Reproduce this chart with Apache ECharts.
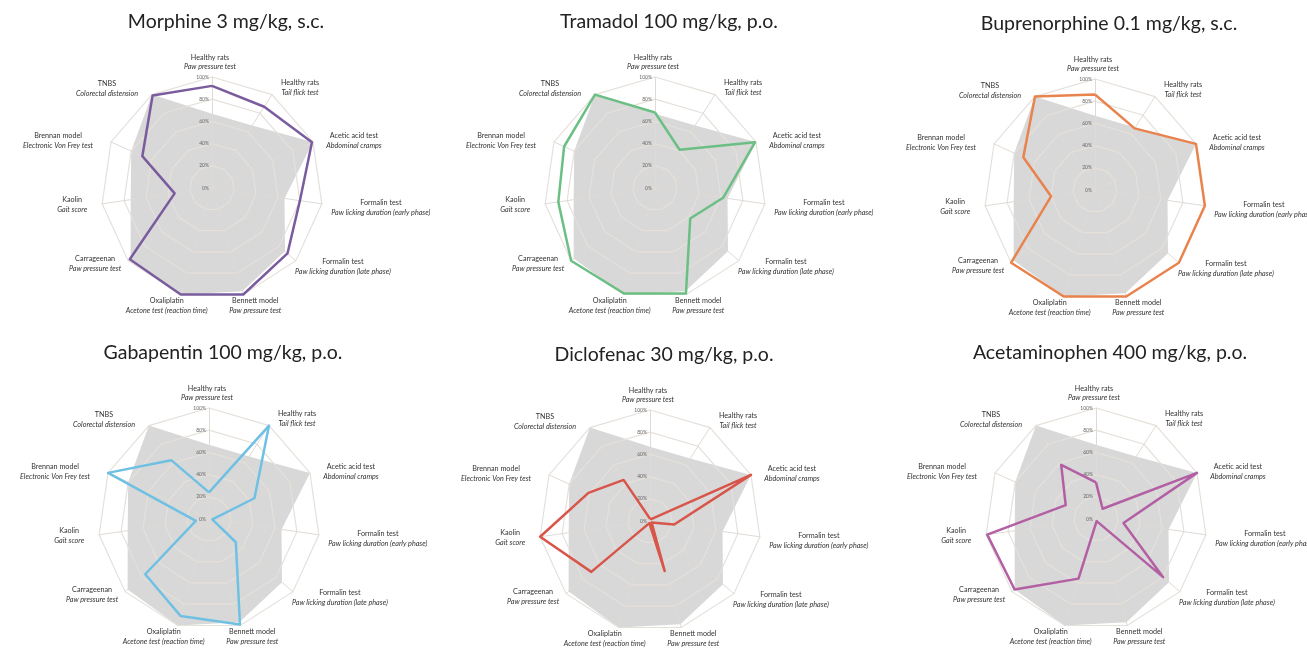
<!DOCTYPE html>
<html>
<head>
<meta charset="utf-8">
<script src="https://cdn.jsdelivr.net/npm/echarts@6/dist/echarts.min.js"></script>
<style>
  html, body { margin: 0; background: #fff; }
  #chart { width: 1307px; height: 648px; }
</style>
</head>
<body>
<div id="chart"></div>
<script>
// axes, clockwise from the top
const axisTests = [
    ['Healthy rats', 'Paw pressure test'],
    ['Healthy rats', 'Tail flick test'],
    ['Acetic acid test', 'Abdominal cramps'],
    ['Formalin test', 'Paw licking duration (early phase)'],
    ['Formalin test', 'Paw licking duration (late phase)'],
    ['Bennett model', 'Paw pressure test'],
    ['Oxaliplatin', 'Acetone test (reaction time)'],
    ['Carrageenan', 'Paw pressure test'],
    ['Kaolin', 'Gait score'],
    ['Brennan model', 'Electronic Von Frey test'],
    ['TNBS', 'Colorectal distension']
];

const drugTitles = [
    'Morphine 3 mg/kg, s.c.',
    'Tramadol 100 mg/kg, p.o.',
    'Buprenorphine 0.1 mg/kg, s.c.',
    'Gabapentin 100 mg/kg, p.o.',
    'Diclofenac 30 mg/kg, p.o.',
    'Acetaminophen 400 mg/kg, p.o.'
];

// % of maximal effect, same axis order as above
const morphine      = [92, 87, 99, 80, 90, 100, 100, 98, 34, 69, 99];
const tramadol      = [68, 41, 99, 62, 42, 99, 99, 100, 88, 90, 100];
const buprenorphine = [86, 66, 100, 100, 100, 100, 100, 100, 40, 71, 100];
const gabapentin    = [24, 100, 45, 3, 32, 99, 91, 76, 12, 100, 63];
const diclofenac    = [2, 2, 100, 22, 2, 47, 2, 70, 100, 61, 44];
const acetaminophen = [33, 11, 100, 25, 80, 2, 56, 97, 99, 30, 58];
// grey background profile, identical in every panel
const background    = [67, 67, 100, 66, 87, 97, 100, 97, 74, 80, 100];

const tickValues = [0, 20, 40, 60, 80, 100];

const drugValues = [morphine, tramadol, buprenorphine, gabapentin, diclofenac, acetaminophen];
const drugColors = ['#7a5c9e', '#6cbf84', '#e8834e', '#6fc0e3', '#d8554a', '#b35fa3'];

// layout
const centers = [[212, 188], [655, 188], [1095, 190], [209, 519], [650, 521], [1096, 519]];
const RADIUS = 111;
// label centre offset from the 100% vertex (px), per axis
const nameOffsets = [[-2, -15], [28, -7], [41, -1], [59, 4], [47, 6], [12, 11],
    [-14, 11], [-33, 3], [-30, 1], [-53, -1], [-45, -6]];

// echarts lays indicators out counter-clockwise
const ccw = (arr) => [arr[0]].concat(arr.slice(1).reverse());

const indicators = ccw(axisTests.map((t, i) => {
    const [dx, dy] = nameOffsets[i];
    const ind = {
        name: t[0] + '\n' + t[1],
        min: 0,
        max: tickValues[tickValues.length - 1],
        nameGap: 0,
        nameTextStyle: {
            align: 'center',
            verticalAlign: 'middle',
            padding: [Math.max(0, 2 * dy), Math.max(0, -2 * dx), Math.max(0, -2 * dy), Math.max(0, 2 * dx)]
        }
    };
    if (i === 0) {
        ind.axisLabel = {
            show: true,
            fontSize: 5,
            fontFamily: 'Lato',
            color: '#666',
            margin: 3,
            formatter: (v) => (tickValues.indexOf(v) >= 0 ? v + '%' : '')
        };
    }
    return ind;
}));

const radars = centers.map((c) => ({
    center: c,
    radius: RADIUS,
    startAngle: 90,
    splitNumber: tickValues.length - 1,
    shape: 'polygon',
    zlevel: 1,
    indicator: indicators,
    axisName: {
        formatter: (name) => {
            const parts = name.split('\n');
            return '{a|' + parts[0] + '}\n{b|' + parts[1] + '}';
        },
        rich: {
            a: { fontSize: 7.2, fontFamily: 'Lato', color: '#333', align: 'center', lineHeight: 9.5 },
            b: { fontSize: 7.2, fontFamily: 'Lato', fontStyle: 'italic', color: '#333', align: 'center', lineHeight: 9.5 }
        }
    },
    axisLine: { lineStyle: { color: '#dedad6', width: 1 } },
    splitLine: { lineStyle: { color: '#e6e0da', width: 1.2 } },
    splitArea: { show: false },
    axisTick: { show: false },
    axisLabel: { show: false }
}));

const series = [];
drugValues.forEach((vals, i) => {
    series.push({
        type: 'radar',
        radarIndex: i,
        zlevel: 0,
        silent: true,
        symbol: 'none',
        lineStyle: { width: 0, opacity: 0 },
        areaStyle: { color: '#d8d8d8', opacity: 1 },
        data: [{ value: ccw(background), name: 'background' }]
    });
    series.push({
        type: 'radar',
        radarIndex: i,
        zlevel: 2,
        symbol: 'none',
        lineStyle: { color: drugColors[i], width: 2.5 },
        data: [{ value: ccw(vals), name: drugTitles[i] }]
    });
});

const titles = drugTitles.map((t, i) => ({
    type: 'text',
    x: centers[i][0] + 14,
    y: centers[i][1] - 166,
    style: {
        text: t,
        fontSize: 19.5,
        fontFamily: 'Lato',
        fill: '#222',
        align: 'center',
        verticalAlign: 'middle'
    }
}));

const chart = echarts.init(document.getElementById('chart'), null, { renderer: 'canvas' });
chart.setOption({
    backgroundColor: '#fff',
    animation: false,
    radar: radars,
    series: series,
    graphic: titles
});
</script>
</body>
</html>
